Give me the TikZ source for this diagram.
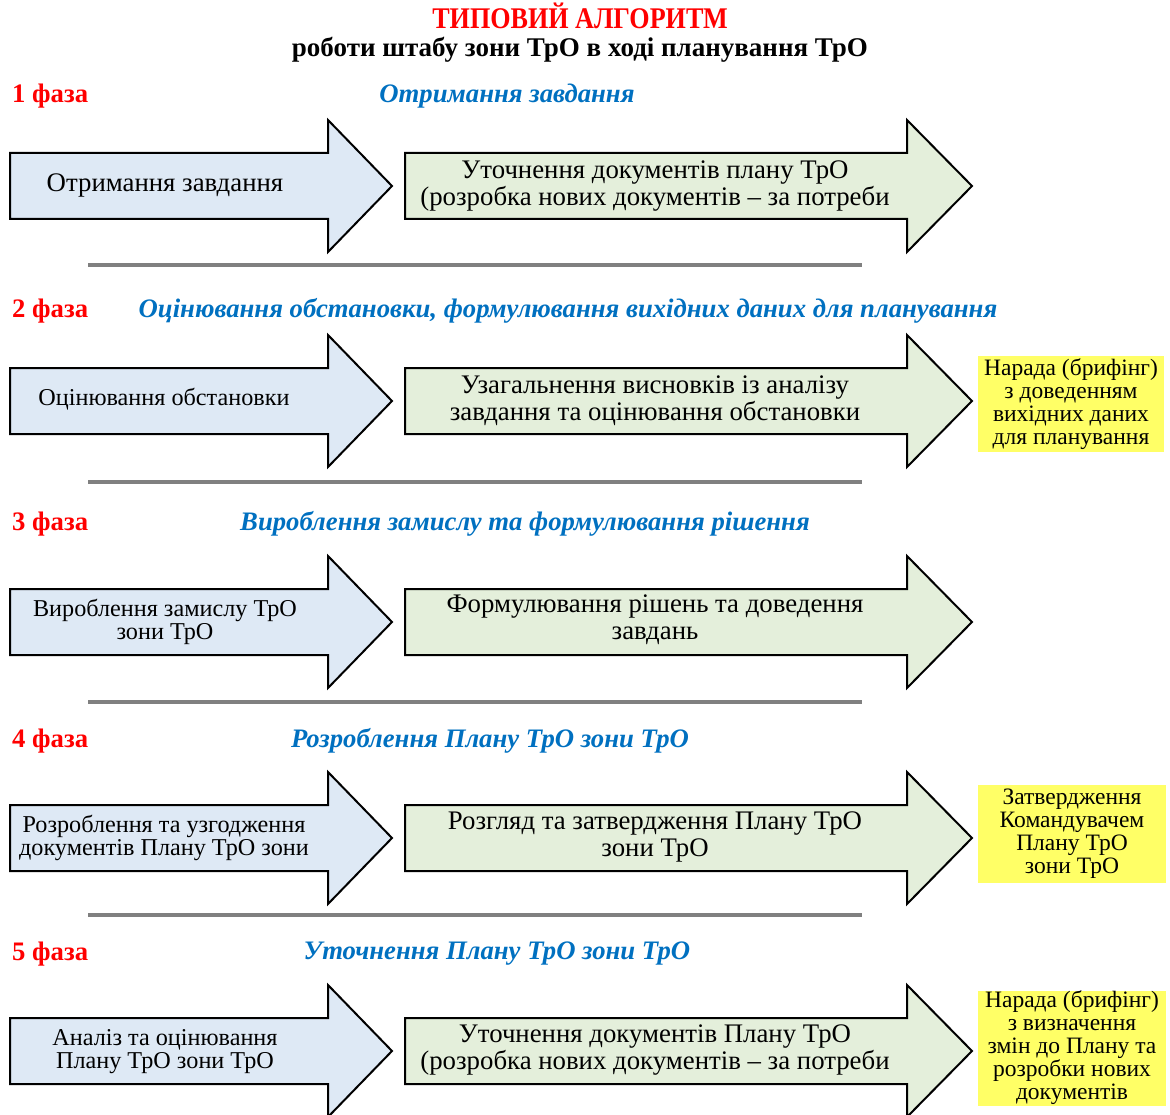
\documentclass[tikz,border=0pt]{standalone}
\usepackage{graphicx}
\usepackage{fontspec}
\setmainfont{Liberation Serif}
\definecolor{leftfill}{HTML}{DEE9F5}
\definecolor{rightfill}{HTML}{E4EFDB}
\definecolor{notefill}{HTML}{FFFF66}
\definecolor{phaseblue}{HTML}{0070C0}
\definecolor{phasered}{HTML}{FF0000}
\definecolor{rulegray}{HTML}{808080}
% block arrow: #1 left x, #2 head base x, #3 tip x, #4 centre y, #5 fill
\newcommand\flowarrow[5]{%
  \draw[arrowline, fill=#5] (#1,#4-33) -- (#2,#4-33) -- (#2,#4-66) -- (#3,#4)
    -- (#2,#4+66) -- (#2,#4+33) -- (#1,#4+33) -- cycle;}
\tikzset{
  arrowline/.style={draw=black, line width=2pt, line join=miter},
  bigtext/.style={align=center, inner sep=0pt, font=\fontsize{26.8}{27}\selectfont},
  smalltext/.style={align=center, inner sep=0pt, font=\fontsize{24.2}{23}\selectfont},
  phasenum/.style={anchor=west, inner sep=0pt, text=phasered, font=\fontsize{26.7}{30}\selectfont\bfseries},
  phasetitle/.style={inner sep=0pt, text=phaseblue, font=\fontsize{26.7}{30}\selectfont\bfseries\itshape},
  notebox/.style={fill=notefill, align=center, inner sep=0pt, font=\fontsize{23.5}{23}\selectfont},
  separator/.style={draw=rulegray, line width=4pt},
}
\begin{document}
\begin{tikzpicture}[x=1pt, y=-1pt]
\useasboundingbox (0,0) rectangle (1170,1115);

% heading
\node[anchor=base, inner sep=0pt, text=phasered, font=\fontsize{30}{33}\selectfont\bfseries] (title) at (580,29) {\scalebox{0.87}[1]{ТИПОВИЙ АЛГОРИТМ}};
\node[anchor=base, inner sep=0pt, font=\fontsize{27}{30}\selectfont\bfseries] (subtitle) at (580,57) {роботи штабу зони ТрО в ході планування ТрО};

% phase 1
\node[phasenum] (p1) at (12,96) {1 фаза};
\node[phasetitle] (t1) at (507,96) {Отримання завдання};
\flowarrow{10}{328}{392}{186}{leftfill}
\flowarrow{405}{907}{972}{186}{rightfill}
\node[bigtext] (a1) at (165,185) {Отримання завдання};
\node[bigtext] (b1) at (655,186) {Уточнення документів плану ТрО\\(розробка нових документів -- за потреби};
\draw[separator] (88,265) coordinate (s1a) -- (862,265) coordinate (s1b);

% phase 2
\node[phasenum] (p2) at (12,311) {2 фаза};
\node[phasetitle] (t2) at (568,311) {Оцінювання обстановки, формулювання вихідних даних для планування};
\flowarrow{10}{328}{392}{401}{leftfill}
\flowarrow{405}{907}{972}{401}{rightfill}
\node[smalltext] (a2) at (164,399) {Оцінювання обстановки};
\node[bigtext] (b2) at (655,401) {Узагальнення висновків із аналізу\\завдання та оцінювання обстановки};
\node[notebox, minimum width=186pt, minimum height=96pt] (n2) at (1071,404) {Нарада (брифінг)\\з доведенням\\вихідних даних\\для планування};
\draw[separator] (88,482) coordinate (s2a) -- (862,482) coordinate (s2b);

% phase 3
\node[phasenum] (p3) at (12,524) {3 фаза};
\node[phasetitle] (t3) at (525,524) {Вироблення замислу та формулювання рішення};
\flowarrow{10}{328}{392}{622}{leftfill}
\flowarrow{405}{907}{972}{622}{rightfill}
\node[smalltext] (a3) at (165,622) {Вироблення замислу ТрО\\зони ТрО};
\node[bigtext] (b3) at (655,620) {Формулювання рішень та доведення\\завдань};
\draw[separator] (88,702) coordinate (s3a) -- (862,702) coordinate (s3b);

% phase 4
\node[phasenum] (p4) at (12,741) {4 фаза};
\node[phasetitle] (t4) at (490,741) {Розроблення Плану ТрО зони ТрО};
\flowarrow{10}{328}{392}{838}{leftfill}
\flowarrow{405}{907}{972}{838}{rightfill}
\node[smalltext] (a4) at (164,838) {Розроблення та узгодження\\документів Плану ТрО зони};
\node[bigtext] (b4) at (655,837) {Розгляд та затвердження Плану ТрО\\зони ТрО};
\node[notebox, minimum width=188pt, minimum height=98pt] (n4) at (1072,834) {Затвердження\\Командувачем\\Плану ТрО\\зони ТрО};
\draw[separator] (88,915) coordinate (s4a) -- (862,915) coordinate (s4b);

% phase 5
\node[phasenum] (p5) at (12,954) {5 фаза};
\node[phasetitle] (t5) at (497,954) {Уточнення Плану ТрО зони ТрО};
\flowarrow{10}{328}{392}{1051}{leftfill}
\flowarrow{405}{907}{972}{1051}{rightfill}
\node[smalltext] (a5) at (165,1052) {Аналіз та оцінювання\\Плану ТрО зони ТрО};
\node[bigtext] (b5) at (655,1050) {Уточнення документів Плану ТрО\\(розробка нових документів -- за потреби};
\node[notebox, minimum width=188pt, minimum height=115pt] (n5) at (1072,1048) {Нарада (брифінг)\\з визначення\\змін до Плану та\\розробки нових\\документів};
\end{tikzpicture}
\end{document}
